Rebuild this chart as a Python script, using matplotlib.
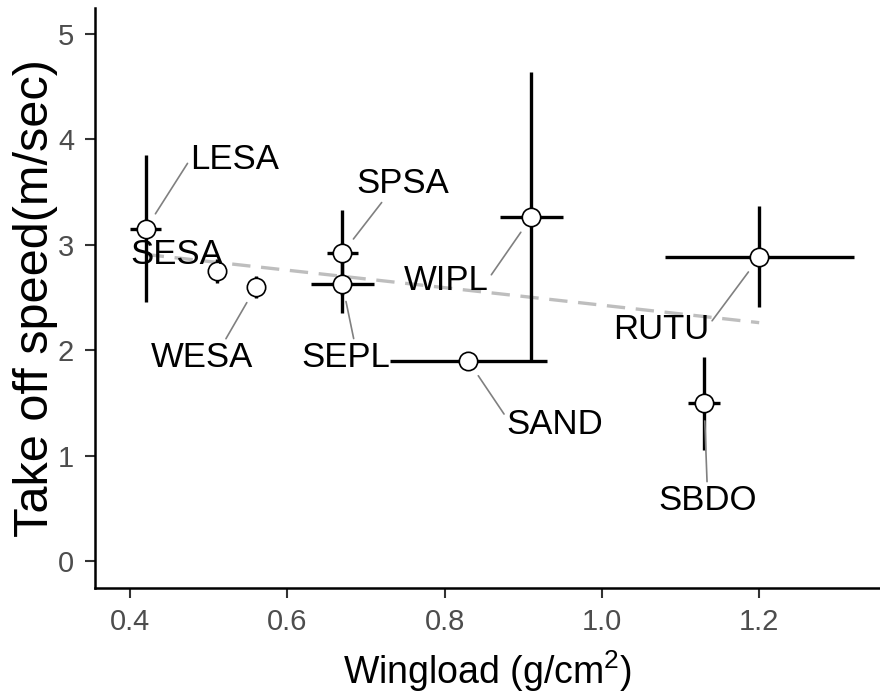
import numpy as np
import matplotlib
matplotlib.use("Agg")
import matplotlib.pyplot as plt

# Species means with their ranges
species = ["LESA", "SESA", "WESA", "SPSA", "SEPL", "WIPL", "SAND", "RUTU", "SBDO"]
wingload = [0.42, 0.51, 0.56, 0.67, 0.67, 0.91, 0.83, 1.20, 1.13]
wingload_lo = [0.40, 0.51, 0.56, 0.65, 0.63, 0.87, 0.73, 1.08, 1.11]
wingload_hi = [0.44, 0.51, 0.56, 0.69, 0.71, 0.95, 0.93, 1.32, 1.15]
speed = [3.15, 2.75, 2.60, 2.92, 2.63, 3.26, 1.90, 2.88, 1.50]
speed_lo = [2.46, 2.64, 2.50, 2.52, 2.35, 1.89, 1.90, 2.41, 1.05]
speed_hi = [3.85, 2.87, 2.70, 3.33, 2.90, 4.64, 1.90, 3.37, 1.94]

x_ticks = [0.4, 0.6, 0.8, 1.0, 1.2]
x_ticklabels = ["0.4", "0.6", "0.8", "1.0", "1.2"]
y_ticks = [0, 1, 2, 3, 4, 5]
y_ticklabels = ["0", "1", "2", "3", "4", "5"]

# Label placement: pixel offset from the point, and where the leader line
# meets the label box (relative position), or None for no leader line
label_layout = {
    "LESA": (89, 70, (0.0, 0.5)),
    "SESA": (-40, 17, None),
    "WESA": (-54, -71, (0.72, 1.0)),
    "SPSA": (60, 70, (0.3, 0.0)),
    "SEPL": (3, -74, (0.6, 1.0)),
    "WIPL": (-85, -63, (1.0, 0.55)),
    "SAND": (87, -64, (0.0, 0.7)),
    "RUTU": (-98, -72, (1.0, 0.65)),
    "SBDO": (3, -98, (0.5, 1.0)),
}

plt.rcParams["font.family"] = ["Liberation Sans", "DejaVu Sans"]
plt.rcParams["mathtext.fontset"] = "custom"
plt.rcParams["mathtext.rm"] = "Liberation Sans"
plt.rcParams["mathtext.it"] = "Liberation Sans:italic"

W, H = 880, 698
fig = plt.figure(figsize=(W / 100, H / 100), dpi=100)
ax = fig.add_axes([95 / W, 1 - 588 / H, 785 / W, 580 / H])

ax.set_xlim(0.3555, 1.3536)
ax.set_ylim(-0.256, 5.247)

# Linear trend across species
slope, intercept = np.polyfit(wingload, speed, 1)
xs = np.array([min(wingload), max(wingload)])
ax.plot(xs, intercept + slope * xs, color="#BEBEBE", lw=2.4,
        dashes=(5.5, 3.2), zorder=1, dash_capstyle="butt")

# Error ranges
ax.vlines(wingload, speed_lo, speed_hi, color="black", lw=2.4, zorder=2)
ax.hlines(speed, wingload_lo, wingload_hi, color="black", lw=2.4, zorder=2)

# Species means
ax.scatter(wingload, speed, s=175, facecolor="white", edgecolor="black",
           linewidth=1.2, zorder=3)

for name, x, y in zip(species, wingload, speed):
    dx, dy, relpos = label_layout[name]
    arrow = None
    if relpos is not None:
        arrow = dict(arrowstyle="-", color="#808080", lw=1.2,
                     shrinkA=0, shrinkB=13, relpos=relpos)
    ax.annotate(name, xy=(x, y), xytext=(dx, dy), textcoords="offset pixels",
                ha="center", va="center", fontsize=25, color="black",
                arrowprops=arrow, zorder=4)

ax.set_xticks(x_ticks)
ax.set_xticklabels(x_ticklabels)
ax.set_yticks(y_ticks)
ax.set_yticklabels(y_ticklabels)

for side in ("top", "right"):
    ax.spines[side].set_visible(False)
for side in ("left", "bottom"):
    ax.spines[side].set_linewidth(1.8)
    ax.spines[side].set_color("black")

ax.tick_params(axis="both", length=7, width=1.5, color="#333333",
               labelsize=21, labelcolor="#4D4D4D")
ax.tick_params(axis="x", pad=7.5)
ax.tick_params(axis="y", pad=8)

ax.set_xlabel("Wingload (g/cm$^2$)", fontsize=27, color="black", labelpad=9)
ax.set_ylabel("Take off speed(m/sec)", fontsize=35, color="black", labelpad=0)

fig.savefig("out.png", dpi=100)
